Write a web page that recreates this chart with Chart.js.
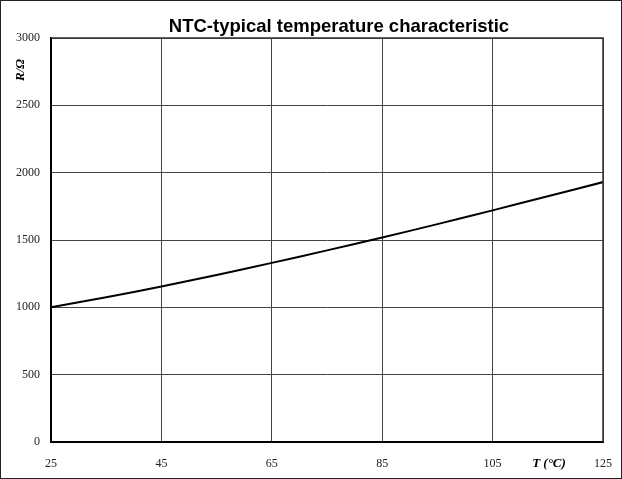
<!DOCTYPE html>
<html>
<head>
<meta charset="utf-8">
<script src="https://cdn.jsdelivr.net/npm/chart.js@4/dist/chart.umd.min.js"></script>
<style>
  html, body { margin: 0; padding: 0; background: #fff; }
  #wrap { width: 620px; height: 477px; border: 1px solid #222; position: relative; }
</style>
</head>
<body>
<div id="wrap"><canvas id="ntcChart"></canvas></div>
<script>
// temperature in °C and resistance in ohm
const temps = [25, 35, 45, 55, 65, 75, 85, 95, 105, 115, 125];
const resistance = [1000, 1075, 1155, 1240, 1330, 1423, 1518, 1618, 1720, 1825, 1930];
const xTicks = [25, 45, 65, 85, 105, 125];
const yTicks = [0, 500, 1000, 1500, 2000, 2500, 3000];

const titleText = 'NTC-typical temperature characteristic';
const serif = "'Liberation Serif', 'Times New Roman', serif";

const extras = {
    id: 'extras',
    afterDatasetsDraw(chart) {
        const ctx = chart.ctx;
        const a = chart.chartArea;
        ctx.save();
        // top + right frame of the plot area
        ctx.strokeStyle = '#333';
        ctx.lineWidth = 1.5;
        ctx.beginPath();
        ctx.moveTo(a.left, a.top);
        ctx.lineTo(a.right, a.top);
        ctx.lineTo(a.right, a.bottom);
        ctx.stroke();

        // title
        ctx.fillStyle = '#000';
        ctx.font = "bold 18.5px 'Liberation Sans', Arial, sans-serif";
        ctx.textAlign = 'center';
        ctx.textBaseline = 'middle';
        ctx.fillText(titleText, 338, 26);

        // axis titles
        ctx.font = 'italic bold 13px ' + serif;
        ctx.fillText('T (°C)', 548, 463);
        ctx.translate(20, 69);
        ctx.rotate(-Math.PI / 2);
        ctx.fillText('R/Ω', 0, 0);
        ctx.restore();
    }
};

new Chart(document.getElementById('ntcChart'), {
    type: 'line',
    data: {
        datasets: [{
            data: temps.map((t, i) => ({ x: t, y: resistance[i] })),
            borderColor: '#000',
            borderWidth: 2,
            pointRadius: 0,
            tension: 0.3,
            fill: false
        }]
    },
    options: {
        responsive: true,
        maintainAspectRatio: false,
        animation: false,
        layout: { padding: { top: 37, right: 18, left: 0, bottom: 0 } },
        plugins: {
            legend: { display: false },
            tooltip: { enabled: false }
        },
        scales: {
            x: {
                type: 'linear',
                min: 25,
                max: 125,
                afterBuildTicks: s => { s.ticks = xTicks.map(v => ({ value: v })); },
                afterFit: s => { s.height = 36; s.paddingLeft = 0; s.paddingRight = 0; },
                grid: { color: '#444', lineWidth: 1, drawTicks: false },
                border: { color: '#000', width: 2 },
                ticks: {
                    padding: 15,
                    color: '#222',
                    font: { family: serif, size: 12 },
                    callback: v => String(v)
                }
            },
            y: {
                min: 0,
                max: 3000,
                afterBuildTicks: s => { s.ticks = yTicks.map(v => ({ value: v })); },
                afterFit: s => { s.width = 50; s.paddingTop = 0; s.paddingBottom = 0; },
                grid: { color: '#444', lineWidth: 1, drawTicks: false },
                border: { color: '#000', width: 2 },
                ticks: {
                    padding: 11,
                    color: '#222',
                    font: { family: serif, size: 12 },
                    callback: v => String(v)
                }
            }
        }
    },
    plugins: [extras]
});
</script>
</body>
</html>
